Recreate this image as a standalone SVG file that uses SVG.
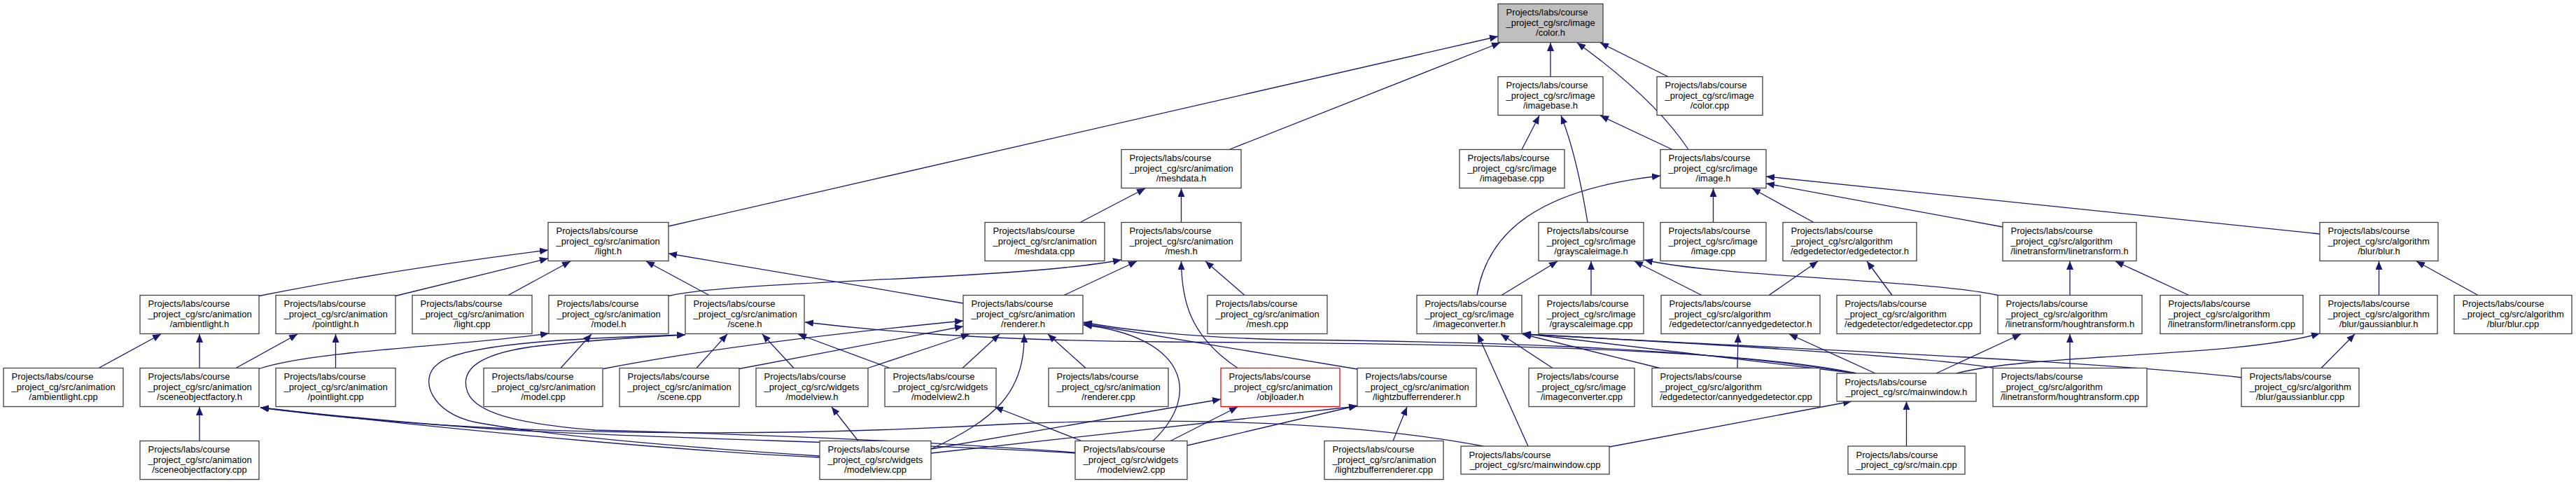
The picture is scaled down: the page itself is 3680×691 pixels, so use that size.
<svg xmlns="http://www.w3.org/2000/svg" width="3680" height="691" viewBox="0 0 3680 691">
<style>
.n rect{fill:#fff;stroke:#404040;stroke-width:1.3}
.root rect{fill:#bfbfbf}
.red rect{stroke:#ff0000}
text{font-family:"Liberation Sans",Arial,Helvetica,sans-serif;font-size:13px;fill:#000}
.c{text-anchor:middle}
.e path{fill:none;stroke:#191970;stroke-width:1.3;marker-end:url(#a)}
</style>
<defs>
<marker id="a" viewBox="0 0 12 10" refX="12" refY="5" markerWidth="12" markerHeight="10" markerUnits="userSpaceOnUse" orient="auto"><path d="M0,0 L12,5 L0,10 z" fill="#191970"/></marker>
</defs>
<rect width="3680" height="691" fill="#fff"/>
<g class="e" id="connectors">
<path d="M955,323 L2140,52"/>
<path d="M1756,213.5 L2143,61"/>
<path d="M2215,109.5 L2215,61"/>
<path d="M2412,213.5 C2370,150 2300,95 2253,61"/>
<path d="M2383,109.5 L2286,61"/>
<path d="M2174,213.5 L2199,165"/>
<path d="M2268,317.5 Q2252,220 2230,165"/>
<path d="M2389,213.5 L2286,165"/>
<path d="M2110,421.5 C2125,330 2200,270 2372,251"/>
<path d="M2447.5,317.5 L2447.5,269"/>
<path d="M2591,317.5 L2503,269"/>
<path d="M2861,324 L2523,262"/>
<path d="M3314,334 L2523,252"/>
<path d="M1543,317.5 L1636,269"/>
<path d="M1687.5,317.5 L1687.5,269"/>
<path d="M370,422.5 Q560,385 783,357"/>
<path d="M565,422.5 L783,369"/>
<path d="M726,421.5 L815,373"/>
<path d="M1013,421.5 L923,373"/>
<path d="M1376,433 L955,362"/>
<path d="M955,422.5 C1050,400 1450,400 1602,371"/>
<path d="M1520,421.5 L1624,373"/>
<path d="M1768,525.5 C1700,480 1688,430 1687.5,373"/>
<path d="M1778,421.5 L1722,373"/>
<path d="M2145,421.5 L2225,373"/>
<path d="M2273,421.5 L2273,373"/>
<path d="M2431,421.5 L2335,373"/>
<path d="M2854,421.5 C2760,400 2450,395 2349,371"/>
<path d="M2527,421.5 L2597,373"/>
<path d="M2703,421.5 L2667,373"/>
<path d="M2957,421.5 L2957,373"/>
<path d="M3127,421.5 L3022,373"/>
<path d="M3398.5,421.5 L3398.5,373"/>
<path d="M3540,421.5 L3452,373"/>
<path d="M141,525.5 L230,477"/>
<path d="M285,525.5 L285,477"/>
<path d="M337,525.5 L425,477"/>
<path d="M479.5,525.5 L479.5,477"/>
<path d="M370,526.5 C450,500 650,495 784,476"/>
<path d="M801,525.5 L845,477"/>
<path d="M995,525.5 L1039,477"/>
<path d="M1134,525.5 L1089,477"/>
<path d="M1271,525.5 L1140,477"/>
<path d="M862,526.5 Q1050,490 1376,458"/>
<path d="M1056,526.5 L1376,466"/>
<path d="M1240,525.5 L1385,477"/>
<path d="M1375,525.5 L1428,477"/>
<path d="M1551,525.5 L1497,477"/>
<path d="M1330,641 C1420,600 1465,560 1463,477"/>
<path d="M1647,629.5 C1720,560 1690,480 1548,464"/>
<path d="M1226,629.5 L1188,581"/>
<path d="M1545,629.5 L1421,581"/>
<path d="M1330,641 L1744,570"/>
<path d="M1672,629.5 L1768,581"/>
<path d="M1330,647 L1939,580"/>
<path d="M1696,636 L1939,579"/>
<path d="M1939,527 L1548,462"/>
<path d="M1990,629.5 L2010,581"/>
<path d="M2218,525.5 L2144,477"/>
<path d="M2183,637 L2111,477"/>
<path d="M2371,525.5 L2175,477"/>
<path d="M2652,533 L2175,476"/>
<path d="M2848,525.5 Q2760,508 2175,477"/>
<path d="M3202,539 C3000,516 2600,500 2175,477"/>
<path d="M2482,525.5 L2483,477"/>
<path d="M2679,533 L2556,477"/>
<path d="M2766,533 L2887,477"/>
<path d="M2957,525.5 L2957,477"/>
<path d="M2795,533 C2900,505 3200,510 3314,476"/>
<path d="M3316,525.5 L3364,477"/>
<path d="M2652,533 C2450,490 1900,490 1660,488 C1400,486 1250,472 1150,460"/>
<path d="M2652,533 C2400,490 2000,487 1840,485 C1700,482 1600,470 1548,460"/>
<path d="M2299,638 L2645,573"/>
<path d="M2723.5,637 L2723.5,573"/>
<path d="M285,629.5 L285,581"/>
<path d="M1171,653 C1000,645 700,620 372,582"/>
<path d="M1536,647 C1300,632 900,626 700,612 C550,602 450,590 372,582"/>
<path d="M2119,637 C1950,605 1720,595 1450,605 C1100,625 700,625 372,582"/>
<path d="M1171,651 C1000,640 800,625 680,603 C615,590 598,540 625,520 C660,488 850,482 979,478"/>
<path d="M1536,646 C1300,628 1000,618 850,614 C740,605 680,590 668,560 C655,525 690,505 760,495 C820,488 900,482 979,478"/>
</g>
<g id="color_h" class="n root"><rect x="2140" y="5.5" width="150" height="55"/><text><tspan x="2151.5" y="22.1">Projects/labs/course</tspan><tspan x="2151.5" y="36.7">_project_cg/src/image</tspan><tspan class="c" x="2215" y="51.3">/color.h</tspan></text></g>
<g id="imagebase_h" class="n"><rect x="2140" y="109.5" width="150" height="55"/><text><tspan x="2151.5" y="126.1">Projects/labs/course</tspan><tspan x="2151.5" y="140.7">_project_cg/src/image</tspan><tspan class="c" x="2215" y="155.3">/imagebase.h</tspan></text></g>
<g id="color_cpp" class="n"><rect x="2367" y="109.5" width="151" height="55"/><text><tspan x="2378.5" y="126.1">Projects/labs/course</tspan><tspan x="2378.5" y="140.7">_project_cg/src/image</tspan><tspan class="c" x="2442.5" y="155.3">/color.cpp</tspan></text></g>
<g id="imagebase_cpp" class="n"><rect x="2085" y="213.5" width="150" height="55"/><text><tspan x="2096.5" y="230.1">Projects/labs/course</tspan><tspan x="2096.5" y="244.7">_project_cg/src/image</tspan><tspan class="c" x="2160" y="259.3">/imagebase.cpp</tspan></text></g>
<g id="image_h" class="n"><rect x="2372" y="213.5" width="151" height="55"/><text><tspan x="2383.5" y="230.1">Projects/labs/course</tspan><tspan x="2383.5" y="244.7">_project_cg/src/image</tspan><tspan class="c" x="2447.5" y="259.3">/image.h</tspan></text></g>
<g id="meshdata_h" class="n"><rect x="1602" y="213.5" width="171" height="55"/><text><tspan x="1613.5" y="230.1">Projects/labs/course</tspan><tspan x="1613.5" y="244.7">_project_cg/src/animation</tspan><tspan class="c" x="1687.5" y="259.3">/meshdata.h</tspan></text></g>
<g id="light_h" class="n"><rect x="783" y="317.5" width="172" height="55"/><text><tspan x="794.5" y="334.1">Projects/labs/course</tspan><tspan x="794.5" y="348.7">_project_cg/src/animation</tspan><tspan class="c" x="869" y="363.3">/light.h</tspan></text></g>
<g id="meshdata_cpp" class="n"><rect x="1407" y="317.5" width="171" height="55"/><text><tspan x="1418.5" y="334.1">Projects/labs/course</tspan><tspan x="1418.5" y="348.7">_project_cg/src/animation</tspan><tspan class="c" x="1492.5" y="363.3">/meshdata.cpp</tspan></text></g>
<g id="mesh_h" class="n"><rect x="1602" y="317.5" width="171" height="55"/><text><tspan x="1613.5" y="334.1">Projects/labs/course</tspan><tspan x="1613.5" y="348.7">_project_cg/src/animation</tspan><tspan class="c" x="1687.5" y="363.3">/mesh.h</tspan></text></g>
<g id="grayscaleimage_h" class="n"><rect x="2198" y="317.5" width="150" height="55"/><text><tspan x="2209.5" y="334.1">Projects/labs/course</tspan><tspan x="2209.5" y="348.7">_project_cg/src/image</tspan><tspan class="c" x="2273" y="363.3">/grayscaleimage.h</tspan></text></g>
<g id="image_cpp" class="n"><rect x="2372" y="317.5" width="151" height="55"/><text><tspan x="2383.5" y="334.1">Projects/labs/course</tspan><tspan x="2383.5" y="348.7">_project_cg/src/image</tspan><tspan class="c" x="2447.5" y="363.3">/image.cpp</tspan></text></g>
<g id="edgedetector_h" class="n"><rect x="2547" y="317.5" width="191" height="55"/><text><tspan x="2558.5" y="334.1">Projects/labs/course</tspan><tspan x="2558.5" y="348.7">_project_cg/src/algorithm</tspan><tspan class="c" x="2642.5" y="363.3">/edgedetector/edgedetector.h</tspan></text></g>
<g id="linetransform_h" class="n"><rect x="2861" y="317.5" width="191" height="55"/><text><tspan x="2872.5" y="334.1">Projects/labs/course</tspan><tspan x="2872.5" y="348.7">_project_cg/src/algorithm</tspan><tspan class="c" x="2956.5" y="363.3">/linetransform/linetransform.h</tspan></text></g>
<g id="blur_h" class="n"><rect x="3314" y="317.5" width="169" height="55"/><text><tspan x="3325.5" y="334.1">Projects/labs/course</tspan><tspan x="3325.5" y="348.7">_project_cg/src/algorithm</tspan><tspan class="c" x="3398.5" y="363.3">/blur/blur.h</tspan></text></g>
<g id="ambientlight_h" class="n"><rect x="200" y="421.5" width="170" height="55"/><text><tspan x="211.5" y="438.1">Projects/labs/course</tspan><tspan x="211.5" y="452.7">_project_cg/src/animation</tspan><tspan class="c" x="285" y="467.3">/ambientlight.h</tspan></text></g>
<g id="pointlight_h" class="n"><rect x="394" y="421.5" width="171" height="55"/><text><tspan x="405.5" y="438.1">Projects/labs/course</tspan><tspan x="405.5" y="452.7">_project_cg/src/animation</tspan><tspan class="c" x="479.5" y="467.3">/pointlight.h</tspan></text></g>
<g id="light_cpp" class="n"><rect x="589" y="421.5" width="171" height="55"/><text><tspan x="600.5" y="438.1">Projects/labs/course</tspan><tspan x="600.5" y="452.7">_project_cg/src/animation</tspan><tspan class="c" x="674.5" y="467.3">/light.cpp</tspan></text></g>
<g id="model_h" class="n"><rect x="784" y="421.5" width="171" height="55"/><text><tspan x="795.5" y="438.1">Projects/labs/course</tspan><tspan x="795.5" y="452.7">_project_cg/src/animation</tspan><tspan class="c" x="869.5" y="467.3">/model.h</tspan></text></g>
<g id="scene_h" class="n"><rect x="979" y="421.5" width="170" height="55"/><text><tspan x="990.5" y="438.1">Projects/labs/course</tspan><tspan x="990.5" y="452.7">_project_cg/src/animation</tspan><tspan class="c" x="1064" y="467.3">/scene.h</tspan></text></g>
<g id="renderer_h" class="n"><rect x="1376" y="421.5" width="171" height="55"/><text><tspan x="1387.5" y="438.1">Projects/labs/course</tspan><tspan x="1387.5" y="452.7">_project_cg/src/animation</tspan><tspan class="c" x="1461.5" y="467.3">/renderer.h</tspan></text></g>
<g id="mesh_cpp" class="n"><rect x="1725" y="421.5" width="171" height="55"/><text><tspan x="1736.5" y="438.1">Projects/labs/course</tspan><tspan x="1736.5" y="452.7">_project_cg/src/animation</tspan><tspan class="c" x="1810.5" y="467.3">/mesh.cpp</tspan></text></g>
<g id="imageconverter_h" class="n"><rect x="2024" y="421.5" width="150" height="55"/><text><tspan x="2035.5" y="438.1">Projects/labs/course</tspan><tspan x="2035.5" y="452.7">_project_cg/src/image</tspan><tspan class="c" x="2099" y="467.3">/imageconverter.h</tspan></text></g>
<g id="grayscaleimage_cpp" class="n"><rect x="2198" y="421.5" width="150" height="55"/><text><tspan x="2209.5" y="438.1">Projects/labs/course</tspan><tspan x="2209.5" y="452.7">_project_cg/src/image</tspan><tspan class="c" x="2273" y="467.3">/grayscaleimage.cpp</tspan></text></g>
<g id="cannyedgedetector_h" class="n"><rect x="2373" y="421.5" width="227" height="55"/><text><tspan x="2384.5" y="438.1">Projects/labs/course</tspan><tspan x="2384.5" y="452.7">_project_cg/src/algorithm</tspan><tspan class="c" x="2486.5" y="467.3">/edgedetector/cannyedgedetector.h</tspan></text></g>
<g id="edgedetector_cpp" class="n"><rect x="2624" y="421.5" width="205" height="55"/><text><tspan x="2635.5" y="438.1">Projects/labs/course</tspan><tspan x="2635.5" y="452.7">_project_cg/src/algorithm</tspan><tspan class="c" x="2726.5" y="467.3">/edgedetector/edgedetector.cpp</tspan></text></g>
<g id="houghtransform_h" class="n"><rect x="2854" y="421.5" width="206" height="55"/><text><tspan x="2865.5" y="438.1">Projects/labs/course</tspan><tspan x="2865.5" y="452.7">_project_cg/src/algorithm</tspan><tspan class="c" x="2957" y="467.3">/linetransform/houghtransform.h</tspan></text></g>
<g id="linetransform_cpp" class="n"><rect x="3086" y="421.5" width="204" height="55"/><text><tspan x="3097.5" y="438.1">Projects/labs/course</tspan><tspan x="3097.5" y="452.7">_project_cg/src/algorithm</tspan><tspan class="c" x="3188" y="467.3">/linetransform/linetransform.cpp</tspan></text></g>
<g id="gaussianblur_h" class="n"><rect x="3314" y="421.5" width="168" height="55"/><text><tspan x="3325.5" y="438.1">Projects/labs/course</tspan><tspan x="3325.5" y="452.7">_project_cg/src/algorithm</tspan><tspan class="c" x="3398" y="467.3">/blur/gaussianblur.h</tspan></text></g>
<g id="blur_cpp" class="n"><rect x="3506" y="421.5" width="168" height="55"/><text><tspan x="3517.5" y="438.1">Projects/labs/course</tspan><tspan x="3517.5" y="452.7">_project_cg/src/algorithm</tspan><tspan class="c" x="3590" y="467.3">/blur/blur.cpp</tspan></text></g>
<g id="ambientlight_cpp" class="n"><rect x="5" y="525.5" width="171" height="55"/><text><tspan x="16.5" y="542.1">Projects/labs/course</tspan><tspan x="16.5" y="556.7">_project_cg/src/animation</tspan><tspan class="c" x="90.5" y="571.3">/ambientlight.cpp</tspan></text></g>
<g id="sceneobjectfactory_h" class="n"><rect x="200" y="525.5" width="170" height="55"/><text><tspan x="211.5" y="542.1">Projects/labs/course</tspan><tspan x="211.5" y="556.7">_project_cg/src/animation</tspan><tspan class="c" x="285" y="571.3">/sceneobjectfactory.h</tspan></text></g>
<g id="pointlight_cpp" class="n"><rect x="394" y="525.5" width="171" height="55"/><text><tspan x="405.5" y="542.1">Projects/labs/course</tspan><tspan x="405.5" y="556.7">_project_cg/src/animation</tspan><tspan class="c" x="479.5" y="571.3">/pointlight.cpp</tspan></text></g>
<g id="model_cpp" class="n"><rect x="691" y="525.5" width="170" height="55"/><text><tspan x="702.5" y="542.1">Projects/labs/course</tspan><tspan x="702.5" y="556.7">_project_cg/src/animation</tspan><tspan class="c" x="776" y="571.3">/model.cpp</tspan></text></g>
<g id="scene_cpp" class="n"><rect x="885" y="525.5" width="171" height="55"/><text><tspan x="896.5" y="542.1">Projects/labs/course</tspan><tspan x="896.5" y="556.7">_project_cg/src/animation</tspan><tspan class="c" x="970.5" y="571.3">/scene.cpp</tspan></text></g>
<g id="modelview_h" class="n"><rect x="1080" y="525.5" width="160" height="55"/><text><tspan x="1091.5" y="542.1">Projects/labs/course</tspan><tspan x="1091.5" y="556.7">_project_cg/src/widgets</tspan><tspan class="c" x="1160" y="571.3">/modelview.h</tspan></text></g>
<g id="modelview2_h" class="n"><rect x="1264" y="525.5" width="159" height="55"/><text><tspan x="1275.5" y="542.1">Projects/labs/course</tspan><tspan x="1275.5" y="556.7">_project_cg/src/widgets</tspan><tspan class="c" x="1343.5" y="571.3">/modelview2.h</tspan></text></g>
<g id="renderer_cpp" class="n"><rect x="1498" y="525.5" width="171" height="55"/><text><tspan x="1509.5" y="542.1">Projects/labs/course</tspan><tspan x="1509.5" y="556.7">_project_cg/src/animation</tspan><tspan class="c" x="1583.5" y="571.3">/renderer.cpp</tspan></text></g>
<g id="objloader_h" class="n red"><rect x="1744" y="525.5" width="170" height="55"/><text><tspan x="1755.5" y="542.1">Projects/labs/course</tspan><tspan x="1755.5" y="556.7">_project_cg/src/animation</tspan><tspan class="c" x="1829" y="571.3">/objloader.h</tspan></text></g>
<g id="lightzbufferrenderer_h" class="n"><rect x="1939" y="525.5" width="170" height="55"/><text><tspan x="1950.5" y="542.1">Projects/labs/course</tspan><tspan x="1950.5" y="556.7">_project_cg/src/animation</tspan><tspan class="c" x="2024" y="571.3">/lightzbufferrenderer.h</tspan></text></g>
<g id="imageconverter_cpp" class="n"><rect x="2184" y="525.5" width="151" height="55"/><text><tspan x="2195.5" y="542.1">Projects/labs/course</tspan><tspan x="2195.5" y="556.7">_project_cg/src/image</tspan><tspan class="c" x="2259.5" y="571.3">/imageconverter.cpp</tspan></text></g>
<g id="cannyedgedetector_cpp" class="n"><rect x="2360" y="525.5" width="240" height="55"/><text><tspan x="2371.5" y="542.1">Projects/labs/course</tspan><tspan x="2371.5" y="556.7">_project_cg/src/algorithm</tspan><tspan class="c" x="2480" y="571.3">/edgedetector/cannyedgedetector.cpp</tspan></text></g>
<g id="mainwindow_h" class="n"><rect x="2624" y="533" width="199" height="40"/><text><tspan x="2635.5" y="549.6">Projects/labs/course</tspan><tspan class="c" x="2723.5" y="564.2">_project_cg/src/mainwindow.h</tspan></text></g>
<g id="houghtransform_cpp" class="n"><rect x="2847" y="525.5" width="220" height="55"/><text><tspan x="2858.5" y="542.1">Projects/labs/course</tspan><tspan x="2858.5" y="556.7">_project_cg/src/algorithm</tspan><tspan class="c" x="2957" y="571.3">/linetransform/houghtransform.cpp</tspan></text></g>
<g id="gaussianblur_cpp" class="n"><rect x="3202" y="525.5" width="168" height="55"/><text><tspan x="3213.5" y="542.1">Projects/labs/course</tspan><tspan x="3213.5" y="556.7">_project_cg/src/algorithm</tspan><tspan class="c" x="3286" y="571.3">/blur/gaussianblur.cpp</tspan></text></g>
<g id="sceneobjectfactory_cpp" class="n"><rect x="200" y="629.5" width="170" height="55"/><text><tspan x="211.5" y="646.1">Projects/labs/course</tspan><tspan x="211.5" y="660.7">_project_cg/src/animation</tspan><tspan class="c" x="285" y="675.3">/sceneobjectfactory.cpp</tspan></text></g>
<g id="modelview_cpp" class="n"><rect x="1171" y="629.5" width="159" height="55"/><text><tspan x="1182.5" y="646.1">Projects/labs/course</tspan><tspan x="1182.5" y="660.7">_project_cg/src/widgets</tspan><tspan class="c" x="1250.5" y="675.3">/modelview.cpp</tspan></text></g>
<g id="modelview2_cpp" class="n"><rect x="1536" y="629.5" width="160" height="55"/><text><tspan x="1547.5" y="646.1">Projects/labs/course</tspan><tspan x="1547.5" y="660.7">_project_cg/src/widgets</tspan><tspan class="c" x="1616" y="675.3">/modelview2.cpp</tspan></text></g>
<g id="lightzbufferrenderer_cpp" class="n"><rect x="1892" y="629.5" width="170" height="55"/><text><tspan x="1903.5" y="646.1">Projects/labs/course</tspan><tspan x="1903.5" y="660.7">_project_cg/src/animation</tspan><tspan class="c" x="1977" y="675.3">/lightzbufferrenderer.cpp</tspan></text></g>
<g id="mainwindow_cpp" class="n"><rect x="2087" y="637" width="212" height="40"/><text><tspan x="2098.5" y="653.6">Projects/labs/course</tspan><tspan class="c" x="2193" y="668.2">_project_cg/src/mainwindow.cpp</tspan></text></g>
<g id="main_cpp" class="n"><rect x="2640" y="637" width="167" height="40"/><text><tspan x="2651.5" y="653.6">Projects/labs/course</tspan><tspan class="c" x="2723.5" y="668.2">_project_cg/src/main.cpp</tspan></text></g>
</svg>
